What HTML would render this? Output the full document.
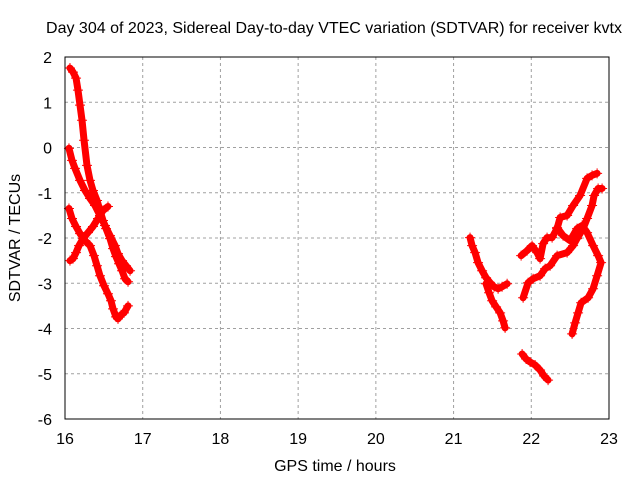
<!DOCTYPE html>
<html><head><meta charset="utf-8"><style>
body{margin:0;background:#fff;}
svg text{font-family:"Liberation Sans",sans-serif;font-size:16px;fill:#000;}
</style></head><body>
<svg id="chart" width="640" height="480" viewBox="0 0 640 480" xmlns="http://www.w3.org/2000/svg">
<rect width="640" height="480" fill="#fff"/>
<g id="grid"></g>
<g id="ticks"></g>
<g id="series"></g>
<rect x="65" y="57" width="544" height="362" fill="none" stroke="#000" stroke-width="1"/>
<text x="334" y="33" text-anchor="middle">Day 304 of 2023, Sidereal Day-to-day VTEC variation (SDTVAR) for receiver kvtx</text>
<text x="335" y="471" text-anchor="middle">GPS time / hours</text>
<text x="20" y="238" text-anchor="middle" transform="rotate(-90 20 238)">SDTVAR / TECUs</text>
</svg>
<script>
const xTicks=[16,17,18,19,20,21,22,23];
const yTicks=[2,1,0,-1,-2,-3,-4,-5,-6];
const trackA_h=[16.064,16.103,16.142,16.167,16.193,16.219,16.245,16.283,16.322,16.360,16.412,16.450,16.489,16.528,16.579,16.618,16.656,16.695,16.734,16.772,16.811];
const trackA_v=[1.756,1.667,1.534,1.268,0.936,0.603,0.160,-0.395,-0.727,-0.949,-1.171,-1.392,-1.614,-1.792,-2.013,-2.235,-2.412,-2.568,-2.723,-2.900,-2.967];
const trackB_h=[16.051,16.090,16.129,16.193,16.257,16.322,16.386,16.450,16.515,16.579,16.644,16.682,16.734,16.785,16.837];
const trackB_v=[-0.018,-0.284,-0.461,-0.727,-0.949,-1.126,-1.282,-1.503,-1.725,-1.947,-2.168,-2.346,-2.501,-2.612,-2.723];
const trackC_h=[16.051,16.090,16.142,16.193,16.257,16.322,16.373,16.412,16.450,16.502,16.553,16.592,16.618,16.656,16.682,16.721,16.759,16.811];
const trackC_v=[-1.348,-1.570,-1.747,-1.902,-2.058,-2.168,-2.390,-2.612,-2.834,-3.055,-3.233,-3.388,-3.565,-3.743,-3.787,-3.698,-3.654,-3.499];
const trackD_h=[16.064,16.103,16.142,16.180,16.232,16.296,16.360,16.425,16.489,16.553];
const trackD_v=[-2.501,-2.457,-2.324,-2.168,-2.013,-1.880,-1.747,-1.570,-1.392,-1.304];
const trackE_h=[21.212,21.238,21.277,21.315,21.367,21.418,21.470,21.521,21.573,21.624,21.689];
const trackE_v=[-1.991,-2.168,-2.324,-2.545,-2.723,-2.878,-2.989,-3.078,-3.122,-3.078,-3.011];
const trackF_h=[21.418,21.457,21.496,21.547,21.599,21.637,21.663];
const trackF_v=[-3.011,-3.211,-3.388,-3.521,-3.654,-3.831,-3.987];
const trackG_h=[21.882,21.933,21.985,22.049,22.113,22.165,22.216];
const trackG_v=[-4.563,-4.674,-4.741,-4.807,-4.918,-5.051,-5.140];
const trackH_h=[21.895,21.959,22.023,22.113,22.178,22.242,22.332,22.461,22.538,22.589,22.667,22.718,22.782,22.808,22.860,22.911];
const trackH_v=[-3.321,-2.989,-2.900,-2.834,-2.678,-2.612,-2.390,-2.324,-2.168,-2.013,-1.792,-1.570,-1.282,-1.060,-0.905,-0.905];
const trackI_h=[21.869,21.946,22.010,22.075,22.113,22.152,22.203,22.268,22.332,22.371,22.461,22.538,22.628,22.718,22.782,22.847];
const trackI_v=[-2.390,-2.279,-2.168,-2.324,-2.457,-2.124,-1.991,-1.991,-1.792,-1.548,-1.503,-1.282,-1.060,-0.683,-0.617,-0.572];
const trackJ_h=[22.332,22.409,22.499,22.589,22.654,22.718,22.795,22.860,22.898,22.847,22.795,22.731,22.641,22.602,22.564,22.525];
const trackJ_v=[-1.770,-1.947,-2.058,-1.792,-1.725,-1.880,-2.168,-2.390,-2.545,-2.834,-3.122,-3.321,-3.432,-3.654,-3.876,-4.120];

const NS='http://www.w3.org/2000/svg';
const X0=65,X1=609,Y0=57,Y1=419,xMin=16,xMax=23,yMin=-6,yMax=2;
function xs(h){return X0+(h-xMin)/(xMax-xMin)*(X1-X0);}
function ys(v){return Y1-(v-yMin)/(yMax-yMin)*(Y1-Y0);}
function mk(tag,attrs,parent){const e=document.createElementNS(NS,tag);for(const k in attrs)e.setAttribute(k,attrs[k]);parent.appendChild(e);return e;}
const grid=document.getElementById('grid'),ticks=document.getElementById('ticks'),ser=document.getElementById('series');
xTicks.forEach(t=>{const x=xs(t);
 if(t>xMin&&t<xMax){const g=mk('line',{x1:x,x2:x,y1:Y0,y2:Y1,stroke:'#a0a0a0','stroke-dasharray':'3,3'},grid);
 
 }
 const tl=mk('text',{x:x,y:Y1+25,'text-anchor':'middle'},ticks);tl.textContent=t;
 
 
});
yTicks.forEach(t=>{const y=ys(t);
 if(t>yMin&&t<yMax){const g=mk('line',{x1:X0,x2:X1,y1:y,y2:y,stroke:'#a0a0a0','stroke-dasharray':'3,3'},grid);
 
 }
 const tl=mk('text',{x:X0-13,y:y+6,'text-anchor':'end'},ticks);tl.textContent=t;
 
 
});
const tracks=[[trackA_h,trackA_v],[trackB_h,trackB_v],[trackC_h,trackC_v],[trackD_h,trackD_v],[trackE_h,trackE_v],[trackF_h,trackF_v],[trackG_h,trackG_v],[trackH_h,trackH_v],[trackI_h,trackI_v],[trackJ_h,trackJ_v]];
tracks.forEach(([H,V],i)=>{
 const pts=H.map((h,j)=>xs(h)+','+ys(V[j])).join(' ');
 const pl=mk('polyline',{points:pts,fill:'none',stroke:'#ff0000','stroke-width':7,'stroke-linejoin':'round','stroke-linecap':'round'},ser);
 
 
 H.forEach((h,j)=>{const x=xs(h),y=ys(V[j]);
  const p=mk('path',{d:`M${x-5} ${y}H${x+5}M${x} ${y-5}V${y+5}`,stroke:'#ff0000','stroke-width':1},ser);
  
  
 });
});
</script>
</body></html>
